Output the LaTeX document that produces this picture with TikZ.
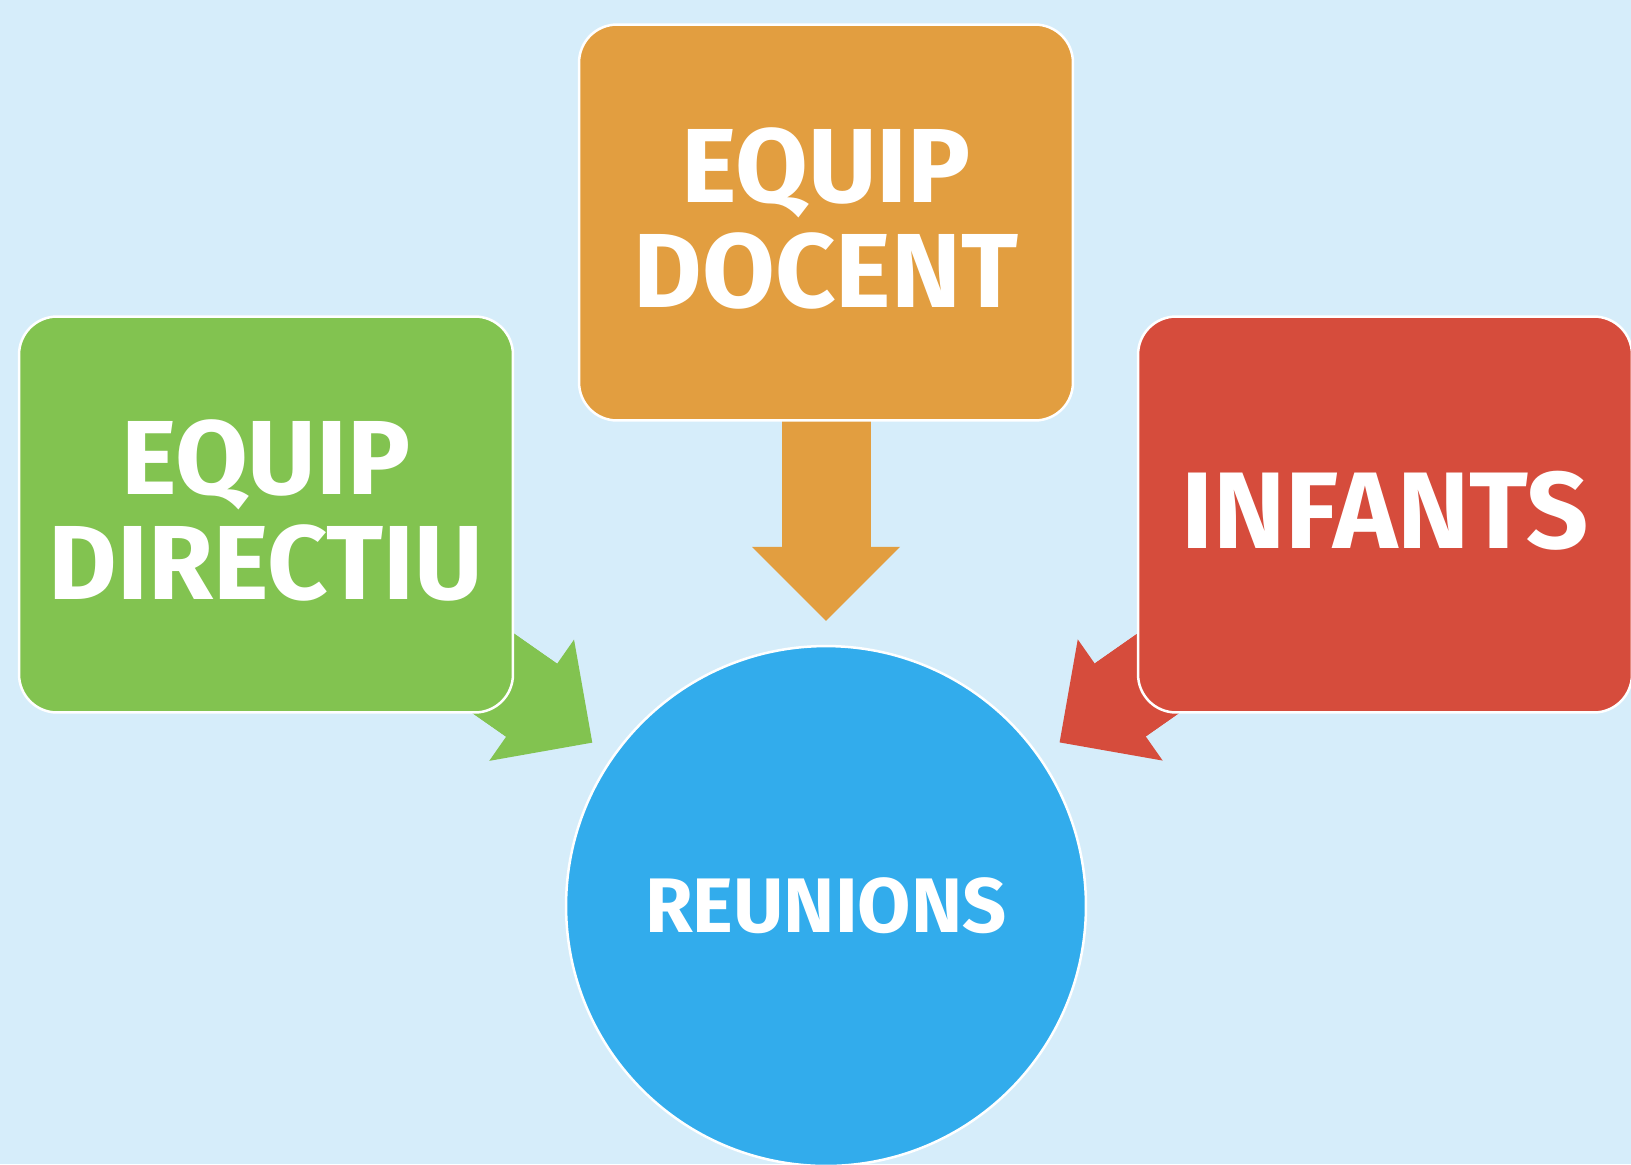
\documentclass[tikz,border=0pt]{standalone}
\usepackage{fontspec}
\setmainfont{Fira Sans}
\usetikzlibrary{arrows.meta}

\definecolor{skyback}{HTML}{D6EDFA}
\definecolor{docentorange}{HTML}{E29E40}
\definecolor{directiugreen}{HTML}{82C350}
\definecolor{infantsred}{HTML}{D64C3C}
\definecolor{reunionsblue}{HTML}{32ACEC}

\pgfdeclarelayer{backdrop}
\pgfdeclarelayer{pointers}
\pgfsetlayers{backdrop,pointers,main}

\tikzset{
  teambox/.style={rectangle,rounded corners=0.76cm,draw=white,line width=0.05cm,
    minimum width=9.88cm,minimum height=7.92cm,text=white,align=center,
    font=\fontsize{60}{60}\selectfont\bfseries,text depth=0.2cm},
  meetcircle/.style={circle,draw=white,line width=0.05cm,minimum size=10.4cm,
    inner sep=0pt,text=white,font=\fontsize{44}{44}\selectfont\bfseries},
  % shaft drawn again so that it runs into the head (no seam)
  blockarrow/.style={draw=#1,line width=1.78cm,
    -{Triangle[length=1.48cm,width=2.96cm,line width=0pt]},shorten >=0.48cm,
    postaction={draw=#1,line width=1.78cm,-,shorten >=1.6cm}}
}

\begin{document}
\begin{tikzpicture}[x=0.02cm,y=-0.02cm]
        \begin{pgfonlayer}{backdrop}
          \fill[skyback] (0,0) rectangle (1631,1164);
        \end{pgfonlayer}
        \useasboundingbox (0,0) rectangle (1631,1164);

        \begin{scope}[every node/.style={teambox}]
          \node[fill=docentorange] (docent) at (826,222.5) {EQUIP\\DOCENT};
          \node[fill=directiugreen] (directiu) at (266,514.5) {EQUIP\\DIRECTIU};
          \node[fill=infantsred,font=\fontsize{62}{62}\selectfont\bfseries] (infants) at (1385,514.5) {INFANTS};
        \end{scope}
        \node[meetcircle,fill=reunionsblue] (reunions) at (826,906) {REUNIONS};

        \begin{pgfonlayer}{pointers}
          \path (docent.center) edge[blockarrow=docentorange] (reunions);
          \path (directiu.center) edge[blockarrow=directiugreen] (reunions);
          \path (infants.center) edge[blockarrow=infantsred] (reunions);
        \end{pgfonlayer}
\end{tikzpicture}
\end{document}
